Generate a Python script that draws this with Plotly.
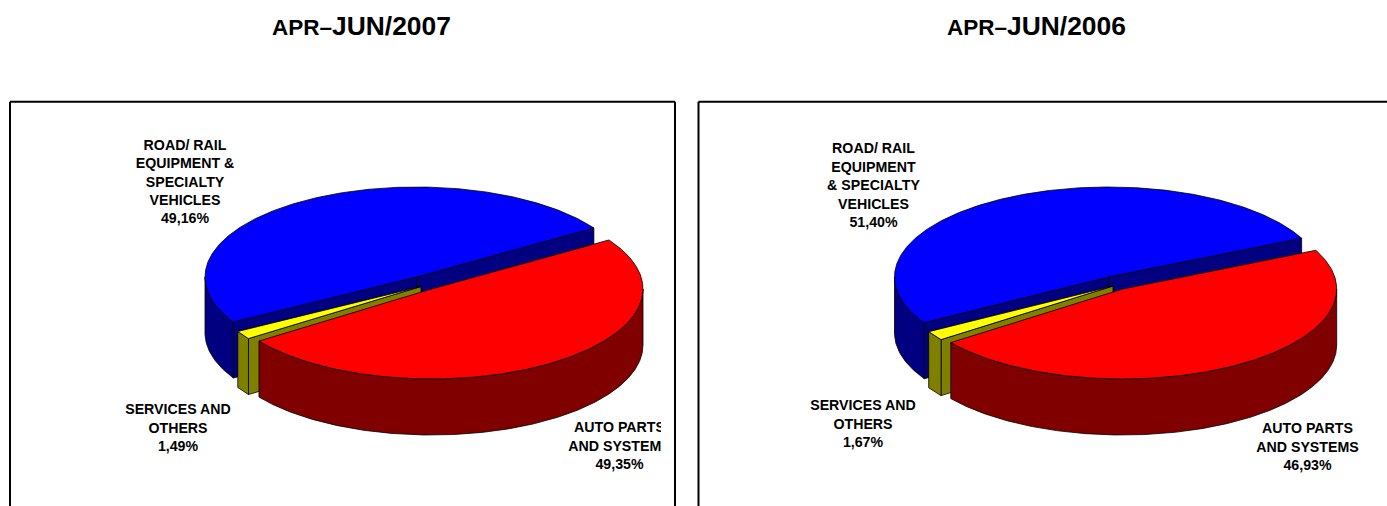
import numpy as np
import plotly.graph_objects as go

# Revenue share by segment, clockwise from the start angle of each pie
segments = ["AUTO PARTS AND SYSTEMS", "SERVICES AND OTHERS", "ROAD/ RAIL EQUIPMENT & SPECIALTY VEHICLES"]
values_2007 = [49.35, 1.49, 49.16]
values_2006 = [46.93, 1.67, 51.40]
title_2007 = ("APR–", "JUN/2007")
title_2006 = ("APR–", "JUN/2006")
label_lines_2007 = [["AUTO PARTS", "AND SYSTEMS"], ["SERVICES AND", "OTHERS"], ["ROAD/ RAIL", "EQUIPMENT &", "SPECIALTY", "VEHICLES"]]
label_lines_2006 = [["AUTO PARTS", "AND SYSTEMS"], ["SERVICES AND", "OTHERS"], ["ROAD/ RAIL", "EQUIPMENT", "& SPECIALTY", "VEHICLES"]]

TOP_COLORS = ["#FF0000", "#FFFF00", "#0000FF"]
SIDE_COLORS = ["#800000", "#808000", "#000080"]
W, H = 1387, 506
FONT = "Liberation Sans, Arial, sans-serif"
LABEL_SIZE = 14.2
DEPTH = 56
RY = 90
LEFT_CLIP = 661  # the left pie's labels are cut off at this x

# Per-pie layout: start angle, horizontal radius, exploded slice centres, label centres
PIE_2007 = dict(start=33.0, rx=211.5,
                centres=[(431.5, 289), (421, 286.5), (416.5, 277)],
                label_xy=[(619.5, 447), (178, 429), (185, 183)])
PIE_2006 = dict(start=25.5, rx=214.0,
                centres=[(1122.7, 289), (1113, 286), (1108.5, 277)],
                label_xy=[(1307.5, 448), (863, 425), (873.5, 186.5)])


def arc(c, rx, a, b, drop=0.0):
    """Points along the elliptical rim from angle a to angle b (degrees)."""
    n = max(2, int(abs(b - a) * 2) + 2)
    t = np.radians(np.linspace(a, b, n))
    return c[0] + rx * np.cos(t), c[1] - RY * np.sin(t) + drop


def polygon(fig, xs, ys, color, xa, ya):
    fig.add_trace(go.Scatter(x=np.append(xs, xs[0]), y=np.append(ys, ys[0]), mode="lines", fill="toself",
                             fillcolor=color, line=dict(color="black", width=0.8),
                             hoverinfo="skip", showlegend=False, xaxis=xa, yaxis=ya))


def draw_slice(fig, c, rx, a_hi, a_lo, top, side, xa, ya):
    """One extruded wedge running clockwise from a_hi down to a_lo."""
    # A cut face shows only when the wedge sits above its edge on the page
    faces = []
    if np.cos(np.radians(a_hi)) < 0:
        faces.append(a_hi)
    if np.cos(np.radians(a_lo)) > 0:
        faces.append(a_lo)
    for ang in faces:
        px = c[0] + rx * np.cos(np.radians(ang))
        py = c[1] - RY * np.sin(np.radians(ang))
        polygon(fig, np.array([c[0], px, px, c[0]]), np.array([c[1], py, py + DEPTH, c[1] + DEPTH]), side, xa, ya)
    # Outer wall: only the part of the rim on the near side
    for k in (-1, 0, 1):
        lo = max(a_lo, 180 + 360 * k)
        hi = min(a_hi, 360 + 360 * k)
        if hi > lo:
            x1, y1 = arc(c, rx, lo, hi)
            x2, y2 = arc(c, rx, hi, lo, DEPTH)
            polygon(fig, np.concatenate([x1, x2]), np.concatenate([y1, y2]), side, xa, ya)
    # Top face
    x1, y1 = arc(c, rx, a_hi, a_lo)
    polygon(fig, np.concatenate([[c[0]], x1]), np.concatenate([[c[1]], y1]), top, xa, ya)


def draw_pie(fig, values, lines, spec, xa, ya):
    total = sum(values)
    sweeps = [v / total * 360 for v in values]
    bounds = [spec["start"] - sum(sweeps[:i]) for i in range(len(values) + 1)]
    # Far slices first so the nearer ones cover them
    for i in (2, 1, 0):
        draw_slice(fig, spec["centres"][i], spec["rx"], bounds[i], bounds[i + 1], TOP_COLORS[i], SIDE_COLORS[i], xa, ya)
    for v, ls, (lx, ly) in zip(values, lines, spec["label_xy"]):
        txt = "<br>".join(ls + [f"{v:.2f}%".replace(".", ",")])
        fig.add_trace(go.Scatter(x=[lx], y=[ly], mode="text", text=[f"<b>{txt}</b>"], textposition="middle center",
                                 textfont=dict(family=FONT, size=LABEL_SIZE, color="black"), cliponaxis=True,
                                 hoverinfo="skip", showlegend=False, xaxis=xa, yaxis=ya))


fig = go.Figure()
draw_pie(fig, values_2007, label_lines_2007, PIE_2007, "x", "y")
draw_pie(fig, values_2006, label_lines_2006, PIE_2006, "x2", "y")

axis_off = dict(visible=False, fixedrange=True)
fig.update_layout(
    width=W, height=H, margin=dict(l=0, r=0, t=0, b=0), paper_bgcolor="white", plot_bgcolor="rgba(0,0,0,0)",
    showlegend=False,
    xaxis=dict(range=[0, LEFT_CLIP], domain=[0, LEFT_CLIP / W], anchor="y", **axis_off),
    xaxis2=dict(range=[690, W], domain=[690 / W, 1], anchor="y", **axis_off),
    yaxis=dict(range=[H, 0], domain=[0, 1], **axis_off),
)

# Chart frames run past the bottom of the page; the right one also past its edge
frame = dict(type="line", xref="paper", yref="paper", line=dict(color="black", width=2), layer="below")
y_top = 1 - 101.7 / H
for x0, x1 in ((10, 675), (698.5, W + 5)):
    fig.add_shape(x0=x0 / W, x1=x1 / W, y0=y_top, y1=y_top, **frame)
    fig.add_shape(x0=x0 / W, x1=x0 / W, y0=y_top, y1=-0.05, **frame)
fig.add_shape(x0=675 / W, x1=675 / W, y0=y_top, y1=-0.05, **frame)

for (small, big), cx in ((title_2007, 361), (title_2006, 1036)):
    fig.add_annotation(x=cx / W, y=1 - 25.5 / H, xref="paper", yref="paper", showarrow=False,
                       xanchor="center", yanchor="middle",
                       text=f"<b><span style='font-size:22.5px'>{small}</span>{big}</b>",
                       font=dict(family=FONT, size=26.4, color="black"))

fig.write_html("out.html")
